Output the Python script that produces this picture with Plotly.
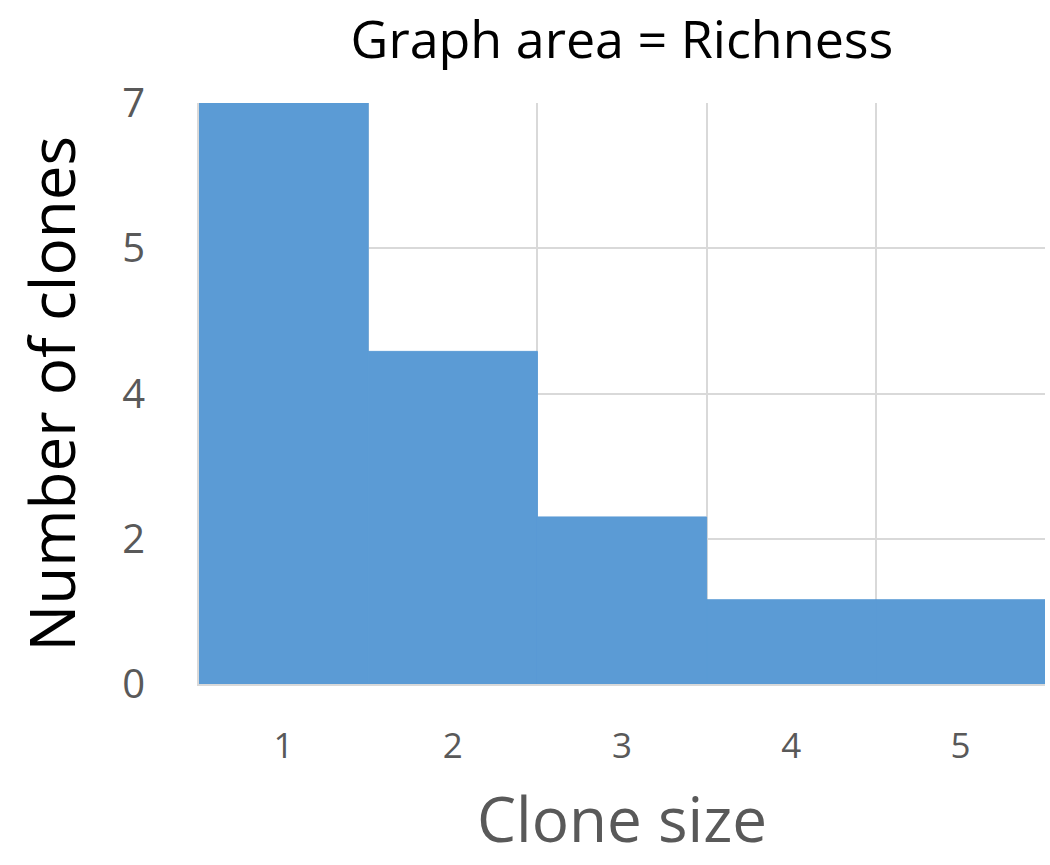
import plotly.graph_objects as go

# Clone-size histogram: number of clones for each clone size
clone_sizes = [1, 2, 3, 4, 5]
clone_counts = [4.0, 2.29, 1.15, 0.58, 0.58]  # in axis units (grid steps)
y_tick_positions = [0, 1, 2, 3, 4]
y_tick_labels = ["0", "2", "4", "5", "7"]
x_tick_labels = ["1", "2", "3", "4", "5"]

BAR = "#5b9bd5"
GRID = "#d9d9d9"
GRAY = "#595959"
FONT = "Open Sans"

fig = go.Figure(
    go.Bar(
        x=clone_sizes,
        y=clone_counts,
        width=1.0,
        marker=dict(color=BAR, line=dict(color=BAR, width=1)),
        hoverinfo="skip",
    )
)

PLOT_L, PLOT_R, PLOT_T, PLOT_B = 199, 1045, 103, 684
PW, PH = PLOT_R - PLOT_L, PLOT_B - PLOT_T

fig.update_layout(
    width=1050,
    height=865,
    margin=dict(l=PLOT_L, r=1050 - PLOT_R, t=PLOT_T, b=865 - PLOT_B),
    paper_bgcolor="white",
    plot_bgcolor="white",
    showlegend=False,
    font=dict(family=FONT, color=GRAY),
    title=dict(
        text="Graph area = Richness",
        x=622 / 1050,
        xanchor="center",
        y=1 - 40 / 865,
        yanchor="middle",
        font=dict(family=FONT, size=52, color="black"),
    ),
    annotations=[
        dict(
            text="Number of clones",
            textangle=-90,
            x=(50 - PLOT_L) / PW,
            y=0.5,
            xref="paper",
            yref="paper",
            xanchor="center",
            yanchor="middle",
            showarrow=False,
            font=dict(family=FONT, size=62, color="black"),
        ),
        dict(
            text="Clone size",
            x=(622 - PLOT_L) / PW,
            y=-(818 - PLOT_B) / PH,
            xref="paper",
            yref="paper",
            xanchor="center",
            yanchor="middle",
            showarrow=False,
            font=dict(family=FONT, size=62, color=GRAY),
        ),
    ],
)

fig.update_xaxes(
    range=[0.5, 5.5],
    tickvals=clone_sizes,
    ticktext=x_tick_labels,
    ticks="outside",
    ticklen=30,
    tickcolor="rgba(0,0,0,0)",
    tickfont=dict(family=FONT, size=35, color=GRAY),
    showgrid=False,
    showline=True,
    linecolor=GRID,
    linewidth=2,
    zeroline=False,
    minor=dict(
        tickvals=[1.5, 2.5, 3.5, 4.5, 5.5],
        showgrid=True,
        gridcolor=GRID,
        gridwidth=2,
        ticks="",
    ),
    fixedrange=True,
)
fig.update_yaxes(
    range=[0, 4],
    tickvals=y_tick_positions,
    ticktext=y_tick_labels,
    ticks="outside",
    ticklen=44,
    tickcolor="rgba(0,0,0,0)",
    tickfont=dict(family=FONT, size=40, color=GRAY),
    showgrid=True,
    gridcolor=GRID,
    gridwidth=2,
    showline=True,
    linecolor=GRID,
    linewidth=2,
    zeroline=False,
    fixedrange=True,
)

fig.write_html("out.html")
